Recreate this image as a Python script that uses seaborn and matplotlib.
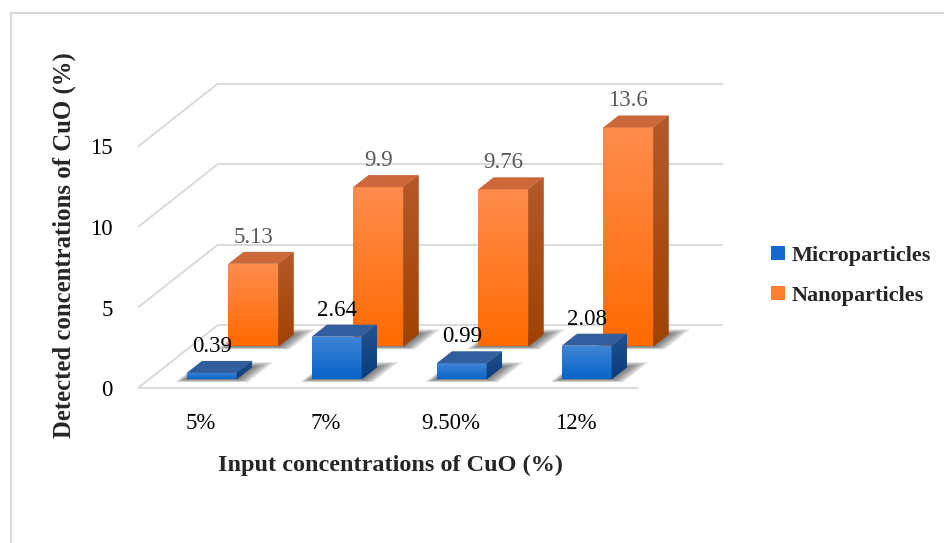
import numpy as np
import pandas as pd
import matplotlib
matplotlib.use("Agg")
import matplotlib.pyplot as plt
from matplotlib.patches import Polygon, Patch, Rectangle
from matplotlib.colors import LinearSegmentedColormap
from matplotlib.transforms import Affine2D
import seaborn as sns

# ---- data ----
categories = ["5%", "7%", "9.50%", "12%"]
micro = [0.39, 2.64, 0.99, 2.08]
nano = [5.13, 9.9, 9.76, 13.6]
series_names = ["Microparticles", "Nanoparticles"]
y_ticks = [0, 5, 10, 15]

sns.set_style("white")
plt.rcParams["font.family"] = ["Liberation Serif", "DejaVu Serif"]

W_PX, H_PX, DPI = 945, 543, 100
fig = plt.figure(figsize=(W_PX / DPI, H_PX / DPI), dpi=DPI)

# front plane of the plot box, in pixels
X0_PX, Y0_PX = 138, 388
PX_PER_CAT, PX_PER_UNIT = 125, 16.1
XLIM = (-0.5, 4.2)
YLIM = (0, 19.2)
ax = fig.add_axes([
    X0_PX / W_PX,
    (H_PX - Y0_PX) / H_PX,
    (XLIM[1] - XLIM[0]) * PX_PER_CAT / W_PX,
    (YLIM[1] - YLIM[0]) * PX_PER_UNIT / H_PX,
])

# oblique depth axis: the full depth moves 80 px right and 63 px up
DX = 80 / PX_PER_CAT
DY = 63 / PX_PER_UNIT


def proj(x, y, d):
    return (x + DX * d, y + DY * d)


def shift(d):
    return Affine2D().translate(DX * d, DY * d) + ax.transData


# ---- walls: left-side diagonals, back-wall grid, floor front edge ----
n = len(categories)
x_left, x_right = -0.5, n - 0.5
grid_kw = dict(color="#D9D9D9", lw=1.4, zorder=1, clip_on=False,
               solid_capstyle="butt")
for v in y_ticks:
    a, b = proj(x_left, v, 0), proj(x_left, v, 1)
    ax.plot([a[0], b[0]], [a[1], b[1]], **grid_kw)
    c = proj(x_right + 0.04, v, 1)
    ax.plot([b[0], c[0]], [b[1], c[1]], **grid_kw)
ax.plot([x_left, x_right], [0, 0], **grid_kw)

# ---- 3-D bars: back row (nano) first, then front row (micro) ----
BAR_W = 0.4
BAR_DEPTH = 0.19
rows = [
    dict(values=nano, base="#FF7A1E",
         front=("#FF6A00", "#FF8C4E"), side=("#A04200", "#B5592B"),
         top="#CB6738", label_color="#595959", d0=0.66, z=2),
    dict(values=micro, base="#0D66CC",
         front=("#0664C8", "#4186D6"), side=("#0B3C7A", "#22518F"),
         top="#335E9E", label_color="#000000", d0=0.14, z=5),
]

grad = np.linspace(0, 1, 128)[:, None]
for row in rows:
    d0 = row["d0"]
    d1 = d0 + BAR_DEPTH
    z = row["z"]
    df = pd.DataFrame({"Input": categories, "Detected": row["values"]})
    n_before = len(ax.patches)
    sns.barplot(data=df, x="Input", y="Detected", order=categories,
                width=BAR_W, color=row["base"], saturation=1,
                linewidth=0, ax=ax, zorder=z)
    front_cmap = LinearSegmentedColormap.from_list("f", row["front"])
    side_cmap = LinearSegmentedColormap.from_list("s", row["side"])
    bars = list(ax.patches[n_before:])
    for patch, v in zip(bars, row["values"]):
        L = patch.get_x()
        Wd = patch.get_width()
        h = patch.get_height()
        R = L + Wd

        # soft floor shadow
        for k in range(5):
            f = (5 - k) / 5
            ex_l, ex_r, ed_f, ed_b = 0.06 * f, 0.12 * f, 0.045 * f, 0.08 * f
            sh = [proj(L - ex_l, 0, d0 - ed_f), proj(R + ex_r, 0, d0 - ed_f),
                  proj(R + ex_r, 0, d1 + ed_b), proj(L - ex_l, 0, d1 + ed_b)]
            ax.add_patch(Polygon(sh, closed=True, fc="#1A1A1A", ec="none",
                                 alpha=0.14, zorder=z - 0.5, clip_on=False))

        # front face with vertical gradient
        patch.set_transform(shift(d0))
        patch.set_clip_on(False)
        im = ax.imshow(grad, cmap=front_cmap, extent=(L, R, 0, h),
                       origin="lower", aspect="auto", interpolation="bilinear",
                       zorder=z + 0.1, transform=shift(d0))
        im.set_clip_path(patch)

        # side face
        side_pts = [proj(R, 0, d0), proj(R, 0, d1), proj(R, h, d1), proj(R, h, d0)]
        side = Polygon(side_pts, closed=True, fc=row["side"][0], ec="none",
                       zorder=z + 0.2, clip_on=False)
        ax.add_patch(side)
        xs = [p[0] for p in side_pts]
        ys = [p[1] for p in side_pts]
        im2 = ax.imshow(grad, cmap=side_cmap,
                        extent=(min(xs), max(xs), min(ys), max(ys)),
                        origin="lower", aspect="auto", interpolation="bilinear",
                        zorder=z + 0.25)
        im2.set_clip_path(side)

        # top face
        top_pts = [proj(L, h, d0), proj(R, h, d0), proj(R, h, d1), proj(L, h, d1)]
        ax.add_patch(Polygon(top_pts, closed=True, fc=row["top"], ec="none",
                             zorder=z + 0.3, clip_on=False))

        # value label
        lx, ly = L + Wd / 2 + DX * d0, h + DY * d1
        ax.annotate(f"{v:g}", xy=(lx, ly), xytext=(0, 3),
                    textcoords="offset points", ha="center", va="bottom",
                    fontsize=16.5, color=row["label_color"], zorder=10,
                    annotation_clip=False)

# ---- axes ----
ax.set_xlim(*XLIM)
ax.set_ylim(*YLIM)
ax.set_xticks(range(n))
ax.set_xticklabels(categories)
ax.set_yticks(y_ticks)
ax.set_yticklabels([str(t) for t in y_ticks])
ax.tick_params(axis="both", length=0, pad=18, labelsize=16.5, colors="#000000")
for s in ax.spines.values():
    s.set_visible(False)
ax.grid(False)
ax.patch.set_alpha(0)

ax.set_xlabel("Input concentrations of CuO (%)", fontsize=17.5,
              fontweight="bold")
ax.xaxis.set_label_coords(0.429, -0.215)
ax.set_ylabel("Detected concentrations of CuO (%)", fontsize=17.8,
              fontweight="bold")
ax.yaxis.set_label_coords(-0.106, 0.462)

# ---- legend ----
handles = [Patch(fc="#1468CE", ec="none"), Patch(fc="#FF7F2E", ec="none")]
fig.legend(handles, series_names, loc="upper left",
           bbox_to_anchor=(771 / W_PX, 1 - 246 / H_PX), frameon=False,
           prop=dict(weight="bold", size=16), handlelength=0.62,
           handleheight=0.62, handletextpad=0.3, labelspacing=0.9,
           borderaxespad=0, borderpad=0)

# ---- chart-area border ----
fig.add_artist(Rectangle((11 / W_PX, -0.05), 1.1, 1 - 13 / H_PX + 0.05,
                         transform=fig.transFigure, fill=False,
                         ec="#D9D9D9", lw=1.5, clip_on=False))

fig.savefig("out.png", dpi=DPI)
